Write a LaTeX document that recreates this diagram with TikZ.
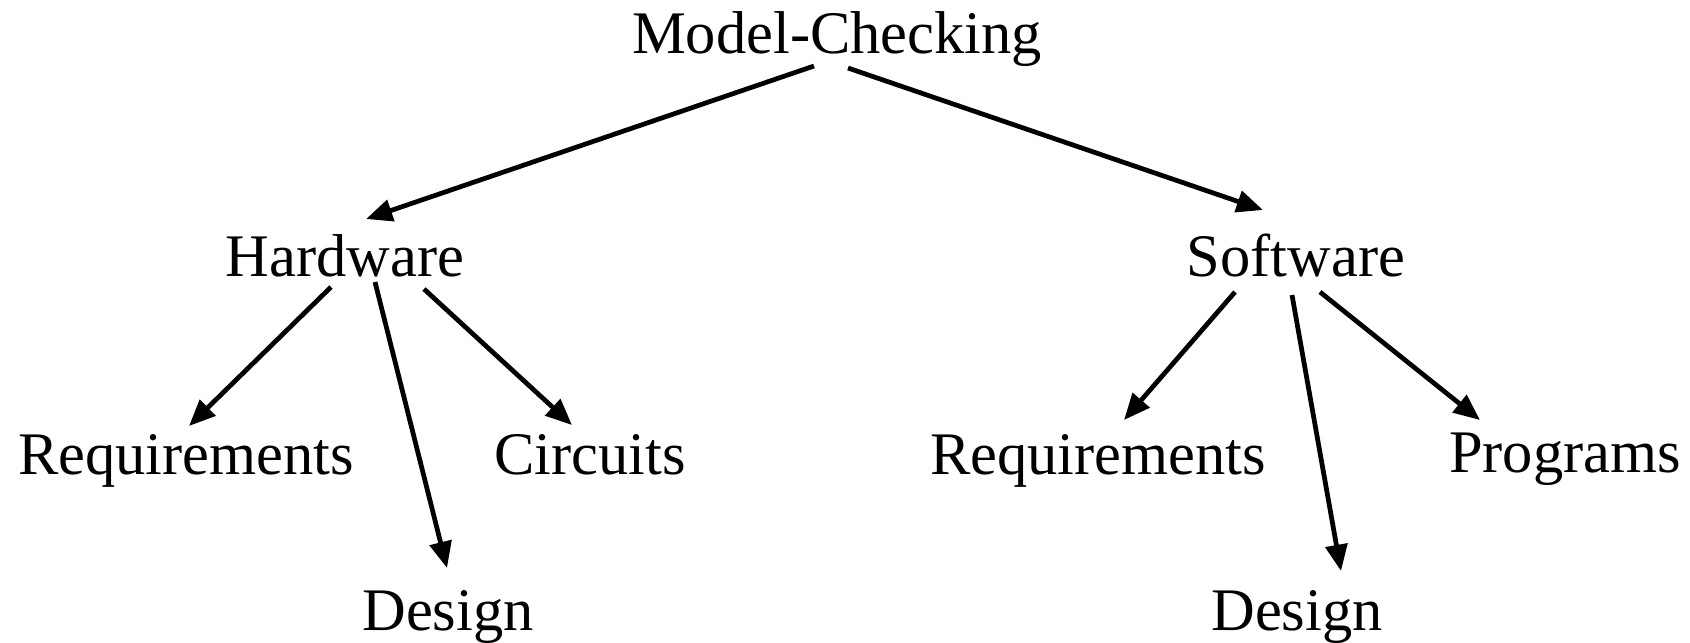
\documentclass[tikz,border=0pt]{standalone}
\usepackage{fontspec}
\setmainfont{Liberation Serif}
\usetikzlibrary{arrows.meta}
\begin{document}
\begin{tikzpicture}[x=0.1mm,y=-0.1mm,
  lbl/.style={anchor=base,inner sep=0pt,font=\fontsize{17.2pt}{20pt}\selectfont},
  arr/.style={line width=1.35pt,-{Triangle[length=7.5pt,width=6.2pt]}}]
\useasboundingbox (0,0) rectangle (1690,642);
\node[lbl] (mc) at (837,53) {Model-Checking};
\node[lbl] (hw) at (345,276) {Hardware};
\node[lbl] (sw) at (1296,276) {Software};
\node[lbl] (reqL) at (186,474) {Requirements};
\node[lbl] (circ) at (590,474) {Circuits};
\node[lbl] (desL) at (448,630) {Design};
\node[lbl] (reqR) at (1098,474) {Requirements};
\node[lbl] (desR) at (1297,630) {Design};
\node[lbl] (prog) at (1565,472) {Programs};
\draw[arr] ([shift={(-23,13)}]mc.base) -- ([shift={(21,-57)}]hw.base);
\draw[arr] ([shift={(11,15)}]mc.base) -- ([shift={(-33,-66)}]sw.base);
\draw[arr] ([shift={(-14,11)}]hw.base) -- ([shift={(3,-48)}]reqL.base);
\draw[arr] ([shift={(30,6)}]hw.base) -- ([shift={(-1,-62)}]desL.base);
\draw[arr] ([shift={(79,13)}]hw.base) -- ([shift={(-18,-49)}]circ.base);
\draw[arr] ([shift={(-61,16)}]sw.base) -- ([shift={(26,-54)}]reqR.base);
\draw[arr] ([shift={(-4,19)}]sw.base) -- ([shift={(44,-59)}]desR.base);
\draw[arr] ([shift={(24,16)}]sw.base) -- ([shift={(-85,-52)}]prog.base);
\end{tikzpicture}
\end{document}
